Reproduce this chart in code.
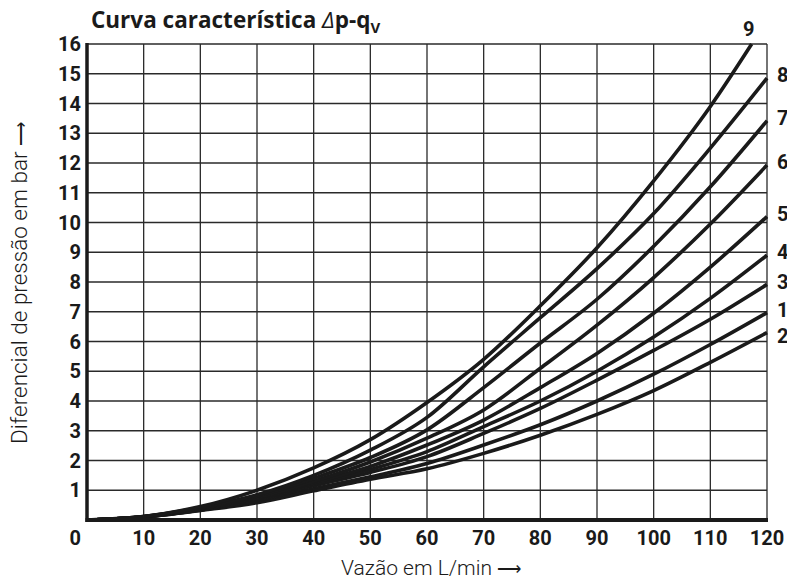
<!DOCTYPE html>
<html>
<head>
<meta charset="utf-8">
<script src="https://cdn.jsdelivr.net/npm/d3@7"></script>
<style>
  body { margin: 0; background: #fff; }
  svg { display: block; font-family: Roboto, "Open Sans", sans-serif; }
  .grid line { stroke: #2a2a2a; stroke-width: 1.3; }
  .tick-label { font-weight: 700; font-size: 20px; fill: #1a1a1a; }
  .curve { fill: none; stroke: #1a1a1a; stroke-width: 3.6; stroke-linecap: butt; }
  .curve-label { font-weight: 700; font-size: 20px; fill: #1a1a1a; }
  .axis-title { font-weight: 300; font-size: 21px; fill: #1a1a1a; }
  .arrow { font-family: "DejaVu Sans", sans-serif; font-size: 17px; }
</style>
</head>
<body>
<div id="chart"></div>
<script>
var width = 787,
  height = 586;
var margins = { top: 44, right: 20, bottom: 66, left: 87 };

// flow rate (L/min) and pressure drop (bar) readings
var flow = [0, 10, 20, 30, 40, 50, 60, 70, 80, 90, 100, 110, 120];
var flow9 = [0, 10, 20, 30, 40, 50, 60, 70, 80, 90, 100, 110, 117.3];

var curve1 = [0, 0.1, 0.33, 0.62, 1.05, 1.45, 1.9, 2.52, 3.2, 4.0, 4.9, 5.9, 6.97];
var curve2 = [0, 0.1, 0.32, 0.58, 0.98, 1.37, 1.72, 2.24, 2.85, 3.55, 4.35, 5.3, 6.3];
var curve3 = [0, 0.1, 0.34, 0.65, 1.15, 1.6, 2.13, 2.91, 3.75, 4.7, 5.7, 6.75, 7.92];
var curve4 = [0, 0.1, 0.35, 0.68, 1.2, 1.7, 2.3, 3.14, 4.0, 5.0, 6.15, 7.45, 8.9];
var curve5 = [0, 0.11, 0.37, 0.72, 1.25, 1.8, 2.52, 3.36, 4.45, 5.6, 6.95, 8.5, 10.2];
var curve6 = [0, 0.11, 0.38, 0.75, 1.3, 1.95, 2.75, 3.7, 5.1, 6.55, 8.15, 9.95, 11.93];
var curve7 = [0, 0.12, 0.4, 0.8, 1.4, 2.1, 3.03, 4.45, 5.95, 7.42, 9.2, 11.2, 13.42];
var curve8 = [0, 0.12, 0.42, 0.85, 1.5, 2.35, 3.45, 5.15, 6.8, 8.45, 10.3, 12.5, 14.85];
var curve9 = [0, 0.12, 0.45, 1.0, 1.75, 2.7, 3.95, 5.4, 7.2, 9.15, 11.4, 13.9, 16];

var flowTicks = [0, 10, 20, 30, 40, 50, 60, 70, 80, 90, 100, 110, 120];
var pressureTicks = [1, 2, 3, 4, 5, 6, 7, 8, 9, 10, 11, 12, 13, 14, 15, 16];

var series = [
  { name: "1", q: flow, p: curve1 },
  { name: "2", q: flow, p: curve2 },
  { name: "3", q: flow, p: curve3 },
  { name: "4", q: flow, p: curve4 },
  { name: "5", q: flow, p: curve5 },
  { name: "6", q: flow, p: curve6 },
  { name: "7", q: flow, p: curve7 },
  { name: "8", q: flow, p: curve8 },
  { name: "9", q: flow9, p: curve9 },
];

var x = d3
  .scaleLinear()
  .domain([0, 120])
  .range([margins.left, width - margins.right]);

var y = d3
  .scaleLinear()
  .domain([0, 16])
  .range([height - margins.bottom, margins.top]);

var svg = d3
  .select("#chart")
  .append("svg")
  .attr("width", width)
  .attr("height", height)
  .attr("viewBox", [0, 0, width, height]);

// grid
var grid = svg.append("g").attr("class", "grid");

grid
  .selectAll(".vline")
  .data(flowTicks.filter((d) => d > 0))
  .enter()
  .append("line")
  .attr("x1", (d) => x(d))
  .attr("x2", (d) => x(d))
  .attr("y1", y(0))
  .attr("y2", y(16));

grid
  .selectAll(".hline")
  .data(pressureTicks)
  .enter()
  .append("line")
  .attr("x1", x(0))
  .attr("x2", x(120))
  .attr("y1", (d) => y(d))
  .attr("y2", (d) => y(d));

// curves
var line = d3
  .line()
  .x((d) => x(d[0]))
  .y((d) => y(d[1]))
  .curve(d3.curveMonotoneX);

svg
  .selectAll(".curve")
  .data(series)
  .enter()
  .append("path")
  .attr("class", "curve")
  .attr("d", (s) => line(d3.zip(s.q, s.p)));

// thick axes
svg
  .append("line")
  .attr("x1", x(0))
  .attr("x2", x(0))
  .attr("y1", y(16) - 1)
  .attr("y2", y(0) + 2)
  .attr("stroke", "#1a1a1a")
  .attr("stroke-width", 3.5);

svg
  .append("line")
  .attr("x1", x(0) - 1.5)
  .attr("x2", x(120) + 1)
  .attr("y1", y(0))
  .attr("y2", y(0))
  .attr("stroke", "#1a1a1a")
  .attr("stroke-width", 3.8);

// tick labels
svg
  .selectAll(".xlab")
  .data(flowTicks)
  .enter()
  .append("text")
  .attr("class", "tick-label")
  .attr("x", (d) => (d === 0 ? x(d) - 6 : x(d)))
  .attr("y", y(0) + 25)
  .attr("text-anchor", (d) => (d === 0 ? "end" : "middle"))
  .text((d) => d);

svg
  .selectAll(".ylab")
  .data(pressureTicks)
  .enter()
  .append("text")
  .attr("class", "tick-label")
  .attr("x", x(0) - 6)
  .attr("y", (d) => y(d))
  .attr("dy", "0.36em")
  .attr("text-anchor", "end")
  .text((d) => d);

// curve labels
svg
  .selectAll(".curve-label")
  .data(series)
  .enter()
  .append("text")
  .attr("class", "curve-label")
  .attr("x", (s) => (s.name === "9" ? x(s.q[s.q.length - 1]) - 3 : x(120) + 10))
  .attr("y", (s) => {
    var last = s.p[s.p.length - 1];
    if (s.name === "9") return y(last) - 15;
    if (s.name === "2") return y(last) + 3;
    return y(last) - 3;
  })
  .attr("dy", "0.36em")
  .attr("text-anchor", (s) => (s.name === "9" ? "middle" : "start"))
  .text((s) => s.name);

// title
var title = svg
  .append("text")
  .attr("x", 91)
  .attr("y", 28)
  .attr("font-family", "'Open Sans', Roboto, sans-serif")
  .attr("font-weight", 700)
  .attr("font-size", "22.5px")
  .attr("fill", "#1a1a1a");
title.append("tspan").text("Curva característica ");
title.append("tspan").attr("font-style", "italic").attr("font-weight", 400).text("Δ");
title.append("tspan").text("p-q");
title.append("tspan").attr("font-size", "15px").attr("dy", 5).text("V");

// axis titles
var xTitle = svg
  .append("text")
  .attr("class", "axis-title")
  .attr("x", 431)
  .attr("y", 575)
  .attr("text-anchor", "middle");
xTitle.append("tspan").text("Vazão em L/min ");
xTitle.append("tspan").attr("class", "arrow").text("⟶");

var yTitle = svg
  .append("text")
  .attr("class", "axis-title")
  .attr("font-size", "22.5px")
  .attr("style", "font-size:22.5px")
  .attr("transform", "translate(27,283) rotate(-90)")
  .attr("text-anchor", "middle");
yTitle.append("tspan").text("Diferencial de pressão em bar ");
yTitle.append("tspan").attr("class", "arrow").text("⟶");
</script>
</body>
</html>
